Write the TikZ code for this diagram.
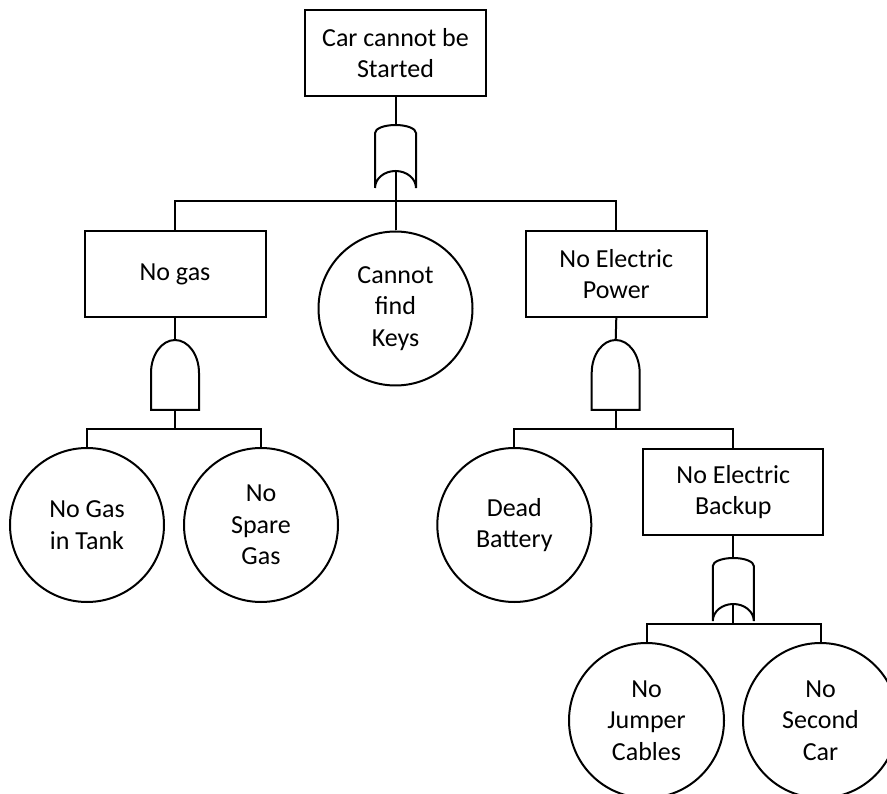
\documentclass[tikz,border=0pt]{standalone}
\usepackage{fontspec}
\setmainfont{Carlito}
\begin{document}
\begin{tikzpicture}[x=1pt,y=1pt,
  line width=2pt,
  label font/.style={font=\fontsize{26}{31.5}\selectfont, align=center},
  event/.style={draw, rectangle, minimum width=181pt, minimum height=86pt, inner sep=0pt, label font},
  basic/.style={draw, circle, minimum size=154pt, inner sep=0pt, label font},
  orgate/.pic={
    \draw (-20.5,-63) -- (-20.5,-8)
      arc[start angle=180, end angle=0, x radius=20.5, y radius=8]
      -- (20.5,-63)
      arc[start angle=0, end angle=180, x radius=20.5, y radius=17];
    \coordinate (-top) at (0,0);
    \coordinate (-bot) at (0,-46);
  },
  andgate/.pic={
    \draw (-24,-70) -- (-24,-33)
      arc[start angle=180, end angle=0, x radius=24, y radius=33]
      -- (24,-70) -- cycle;
    \coordinate (-top) at (0,0);
    \coordinate (-bot) at (0,-70);
  }]
\clip (0,0) rectangle (887,-794);

% events and basic causes
\node[event] (top) at (395.5,-53) {Car cannot be\\Started};
\node[event] (nogas) at (175,-274) {No gas};
\node[basic] (keys) at (395.5,-308.5) {Cannot\\find\\Keys};
\node[event] (power) at (616.3,-274) {No Electric\\Power};
\node[basic] (tank) at (87,-525) {No Gas\\in Tank};
\node[basic] (spare) at (261,-525) {No\\Spare\\Gas};
\node[basic] (battery) at (514.3,-525) {Dead\\Battery};
\node[event, minimum width=180pt] (backup) at (733.3,-492) {No Electric\\Backup};
\node[basic, minimum size=155pt] (jumper) at (646.5,-720.5) {No\\Jumper\\Cables};
\node[basic, minimum size=155pt] (second) at (820.5,-720.5) {No\\Second\\Car};

% gates
\pic (g1) at (395.5,-125) {orgate};
\pic (g2) at (175,-340) {andgate};
\pic (g3) at (615.7,-340) {andgate};
\pic (g4) at (733.3,-558) {orgate};

% bus junctions
\coordinate (bus1) at (395.5,-201);
\coordinate (bus2) at (175,-429);
\coordinate (bus3) at (615.7,-429);
\coordinate (bus4) at (733.3,-624);

% connectors
\draw (top.south) -- (g1-top);
\draw (g1-bot) -- (keys.north);
\draw (nogas.north) |- (bus1) -| (power.north);

\draw (nogas.south) -- (g2-top);
\draw (g2-bot) -- (bus2);
\draw (tank.north) |- (bus2) -| (spare.north);

\draw (power.south) -- (g3-top);
\draw (g3-bot) -- (bus3);
\draw (battery.north) |- (bus3) -| (backup.north);

\draw (backup.south) -- (g4-top);
\draw (g4-bot) -- (bus4);
\draw (jumper.north) |- (bus4) -| (second.north);
\end{tikzpicture}
\end{document}
